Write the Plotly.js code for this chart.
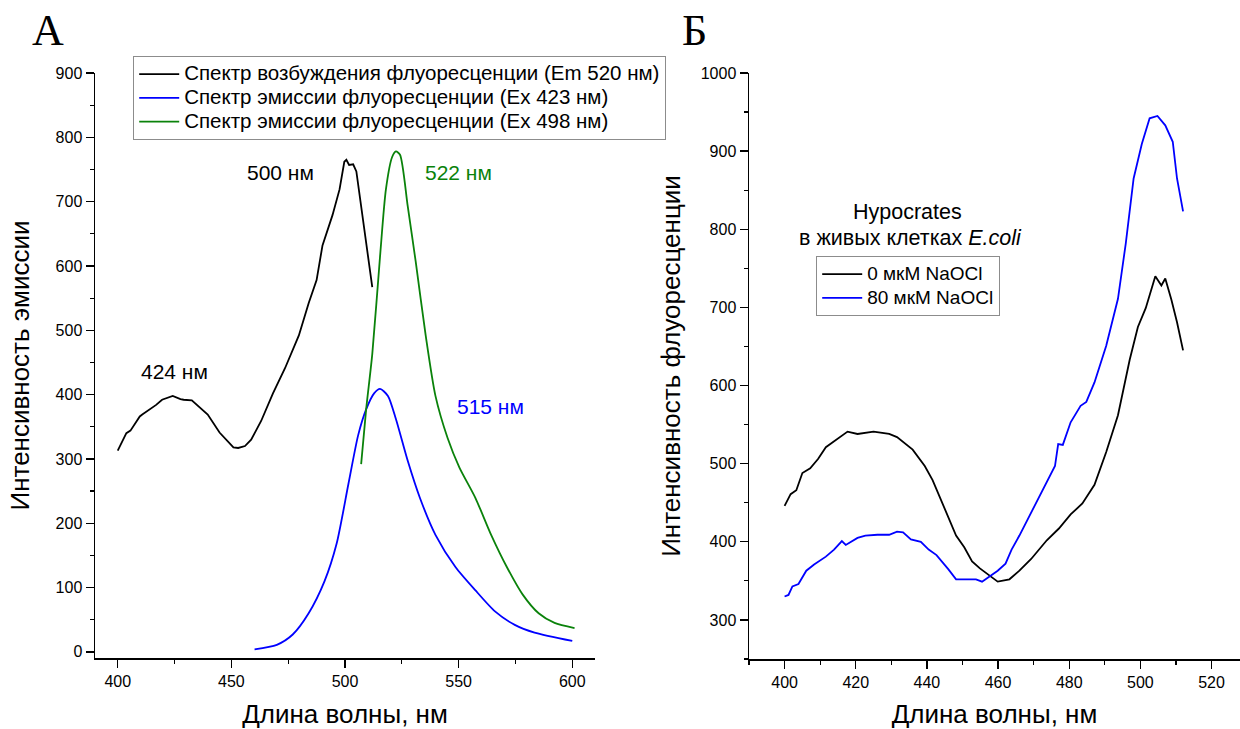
<!DOCTYPE html>
<html>
<head>
<meta charset="utf-8">
<script src="https://cdn.plot.ly/plotly-3.0.1.min.js"></script>
<style>html,body{margin:0;padding:0;background:#fff;}#chart{width:1240px;height:729px;}</style>
</head>
<body>
<div id="chart"></div>
<script>
// Panel A: excitation spectrum (Em 520 nm)
const excWl  = [400, 403.8, 405.6, 409.7, 410.8, 416.9, 419.5, 424.2, 427.6, 429, 432.6, 439.6, 444.8, 450.9, 453, 456, 458.7, 463.1, 468.3, 473.6, 479.7, 484, 487.5, 490.1, 494.5, 497.6, 499.7, 500.6, 501.8, 503.6, 505, 507, 509.3, 512];
const excInt = [313, 340, 344, 366, 369, 384, 392, 398, 393, 392, 391, 369, 341, 318, 317, 320, 330, 359, 402, 441, 492, 542, 578, 632, 679, 719, 762, 765, 757, 758, 747, 693, 636, 567];
// Panel A: emission spectrum (Ex 423 nm)
const em423Wl  = [460.2, 470, 477, 484, 491, 496.3, 501.5, 505.8, 509.3, 512.8, 515.4, 518.9, 522.4, 527.6, 532.9, 539.8, 548.6, 557.3, 566, 574.7, 583.4, 600];
const em423Int = [4, 11, 27, 60, 110, 168, 261, 337, 377, 402, 409, 398, 362, 297, 240, 182, 132, 96, 63, 42, 30, 17];
// Panel A: emission spectrum (Ex 498 nm)
const em498Wl  = [507.1, 509.3, 512, 515.4, 518, 520.7, 522.4, 524.2, 527.6, 531.1, 535.5, 539.8, 545.1, 550.3, 557.3, 564.3, 571.2, 578.2, 585.2, 592.2, 601];
const em498Int = [292, 377, 463, 614, 719, 769, 778, 773, 693, 607, 492, 398, 333, 287, 240, 182, 132, 89, 60, 45, 37];
// Panel B: Hypocrates in E.coli, 0 uM NaOCl
const wl0  = [400, 401.7, 403.3, 405, 407.2, 409.4, 411.6, 414.4, 417.7, 420.5, 425, 429.4, 431.6, 436, 439.4, 441.6, 444.9, 448.2, 450.5, 452.7, 454.9, 457.7, 459.9, 463.2, 466, 469.3, 471.5, 473.7, 477.1, 480.4, 483.7, 487.1, 490.4, 493.7, 497, 499.3, 501.5, 504.2, 505.9, 507, 508.7, 510.3, 512];
const int0 = [446, 461, 466, 488, 494, 506, 521, 530, 541, 538, 541, 538, 534, 518, 497, 479, 444, 408, 393, 375, 366, 357, 349, 352, 363, 378, 390, 402, 417, 435, 449, 473, 515, 562, 633, 675, 699, 740, 728, 737, 710, 681, 645];
// Panel B: Hypocrates in E.coli, 80 uM NaOCl
const wl80  = [400, 401.1, 402.2, 403.9, 406.1, 408.3, 411.6, 413.9, 416.1, 417.2, 420.5, 422.7, 426.1, 429.4, 431.6, 433.3, 435.5, 438.3, 440.5, 442.7, 446, 448.2, 451, 453.8, 455.5, 457.7, 459.9, 462.1, 463.8, 466, 469.3, 472.6, 476, 476.9, 478.2, 480.4, 483.2, 484.8, 487.1, 490.4, 493.7, 495.9, 498.1, 500.4, 502.6, 504.8, 507, 509.1, 510.3, 512];
const int80 = [330, 332, 343, 346, 363, 371, 381, 390, 401, 396, 405, 408, 409, 409, 413, 412, 403, 400, 390, 383, 365, 352, 352, 352, 349, 356, 363, 372, 390, 408, 438, 467, 497, 525, 524, 553, 574, 579, 604, 651, 711, 782, 865, 909, 942, 945, 933, 912, 865, 823];

const legendNamesA = ['Спектр возбуждения флуоресценции (Em 520 нм)', 'Спектр эмиссии флуоресценции (Ex 423 нм)', 'Спектр эмиссии флуоресценции (Ex 498 нм)'];
const legendNamesB = ['0 мкМ NaOCl', '80 мкМ NaOCl'];

const FONT = 'Liberation Sans, Arial, sans-serif';
const W = 1240, H = 729;
const px = x => x / W;
const py = y => 1 - y / H;
const big = (s, size) => '<span style="font-size:' + size + 'px">' + s + '</span>';

const traces = [
  {x: excWl, y: excInt, name: big(legendNamesA[0], 20.5), mode: 'lines', line: {color: '#000000', width: 1.8}, xaxis: 'x', yaxis: 'y', legend: 'legend'},
  {x: em423Wl, y: em423Int, name: big(legendNamesA[1], 20.5), mode: 'lines', line: {color: '#0000ff', width: 1.8, shape: 'spline', smoothing: 0.7}, xaxis: 'x', yaxis: 'y', legend: 'legend'},
  {x: em498Wl, y: em498Int, name: big(legendNamesA[2], 20.5), mode: 'lines', line: {color: '#0a820a', width: 1.8, shape: 'spline', smoothing: 0.7}, xaxis: 'x', yaxis: 'y', legend: 'legend'},
  {x: wl0, y: int0, name: big(legendNamesB[0], 19), mode: 'lines', line: {color: '#000000', width: 1.8}, xaxis: 'x2', yaxis: 'y2', legend: 'legend2'},
  {x: wl80, y: int80, name: big(legendNamesB[1], 19), mode: 'lines', line: {color: '#0000ff', width: 1.8}, xaxis: 'x2', yaxis: 'y2', legend: 'legend2'}
];

const axBase = {
  showline: true, linecolor: '#000', linewidth: 1.5, mirror: false,
  ticks: 'outside', ticklen: 8, tickwidth: 1.3, tickcolor: '#000',
  showgrid: false, zeroline: false,
  tickfont: {family: FONT, size: 16, color: '#000'}
};
const titleFont = {family: FONT, size: 26, color: '#000'};

const layout = {
  width: W, height: H,
  margin: {l: 0, r: 0, t: 0, b: 0},
  paper_bgcolor: '#fff', plot_bgcolor: '#fff',
  showlegend: true,
  xaxis: Object.assign({}, axBase, {
    domain: [px(95), px(595)], range: [390, 610], dtick: 50, tick0: 400,
    minor: {dtick: 25, ticks: 'outside', ticklen: 4, tickcolor: '#000', tickwidth: 1.2},
    anchor: 'y',
    title: {text: 'Длина волны, нм', font: titleFont, standoff: 16}
  }),
  yaxis: Object.assign({}, axBase, {
    domain: [py(658), py(73)], range: [-9.5, 900], dtick: 100, tick0: 0,
    minor: {dtick: 50, ticks: 'outside', ticklen: 4, tickcolor: '#000', tickwidth: 1.2},
    anchor: 'x',
    title: {text: 'Интенсивность эмиссии', font: titleFont, standoff: 18}
  }),
  xaxis2: Object.assign({}, axBase, {
    domain: [px(749), 1], range: [390, 528], dtick: 20, tick0: 400,
    minor: {dtick: 10, ticks: 'outside', ticklen: 4, tickcolor: '#000', tickwidth: 1.2},
    anchor: 'y2',
    title: {text: 'Длина волны, нм', font: titleFont, standoff: 16}
  }),
  yaxis2: Object.assign({}, axBase, {
    domain: [py(659), py(73)], range: [250, 1000], dtick: 100, tick0: 300,
    minor: {dtick: 50, ticks: 'outside', ticklen: 4, tickcolor: '#000', tickwidth: 1.2},
    anchor: 'x2',
    title: {text: 'Интенсивность флуоресценции', font: titleFont, standoff: 12}
  }),
  legend: {
    x: px(133), y: py(56), xanchor: 'left', yanchor: 'top',
    bordercolor: '#8c8c8c', borderwidth: 1.2, bgcolor: 'rgba(255,255,255,0)',
    font: {family: FONT, size: 16, color: '#000'}, itemwidth: 40, tracegroupgap: 0
  },
  legend2: {
    x: px(816), y: py(256), xanchor: 'left', yanchor: 'top',
    bordercolor: '#8c8c8c', borderwidth: 1.2, bgcolor: 'rgba(255,255,255,0)',
    font: {family: FONT, size: 16, color: '#000'}, itemwidth: 40, tracegroupgap: 0
  },
  annotations: [
    {text: 'А', x: px(48), y: py(31), xref: 'paper', yref: 'paper', showarrow: false, xanchor: 'center', yanchor: 'middle', font: {family: 'Liberation Serif, Times New Roman, serif', size: 44, color: '#000'}},
    {text: 'Б', x: px(695), y: py(31), xref: 'paper', yref: 'paper', showarrow: false, xanchor: 'center', yanchor: 'middle', font: {family: 'Liberation Serif, Times New Roman, serif', size: 44, color: '#000'}},
    {text: '500 нм', x: px(280), y: py(172), xref: 'paper', yref: 'paper', showarrow: false, xanchor: 'center', yanchor: 'middle', font: {family: FONT, size: 21, color: '#000'}},
    {text: '424 нм', x: px(174), y: py(371), xref: 'paper', yref: 'paper', showarrow: false, xanchor: 'center', yanchor: 'middle', font: {family: FONT, size: 21, color: '#000'}},
    {text: '522 нм', x: px(458), y: py(172), xref: 'paper', yref: 'paper', showarrow: false, xanchor: 'center', yanchor: 'middle', font: {family: FONT, size: 21, color: '#0a820a'}},
    {text: '515 нм', x: px(490), y: py(406), xref: 'paper', yref: 'paper', showarrow: false, xanchor: 'center', yanchor: 'middle', font: {family: FONT, size: 21, color: '#0000ff'}},
    {text: 'Hypocrates', x: px(907), y: py(212), xref: 'paper', yref: 'paper', showarrow: false, xanchor: 'center', yanchor: 'middle', font: {family: FONT, size: 21.5, color: '#000'}},
    {text: 'в живых клетках <i>E.coli</i>', x: px(910), y: py(238), xref: 'paper', yref: 'paper', showarrow: false, xanchor: 'center', yanchor: 'middle', font: {family: FONT, size: 21.5, color: '#000'}}
  ]
};

Plotly.newPlot('chart', traces, layout, {staticPlot: true, displayModeBar: false});
</script>
</body>
</html>
